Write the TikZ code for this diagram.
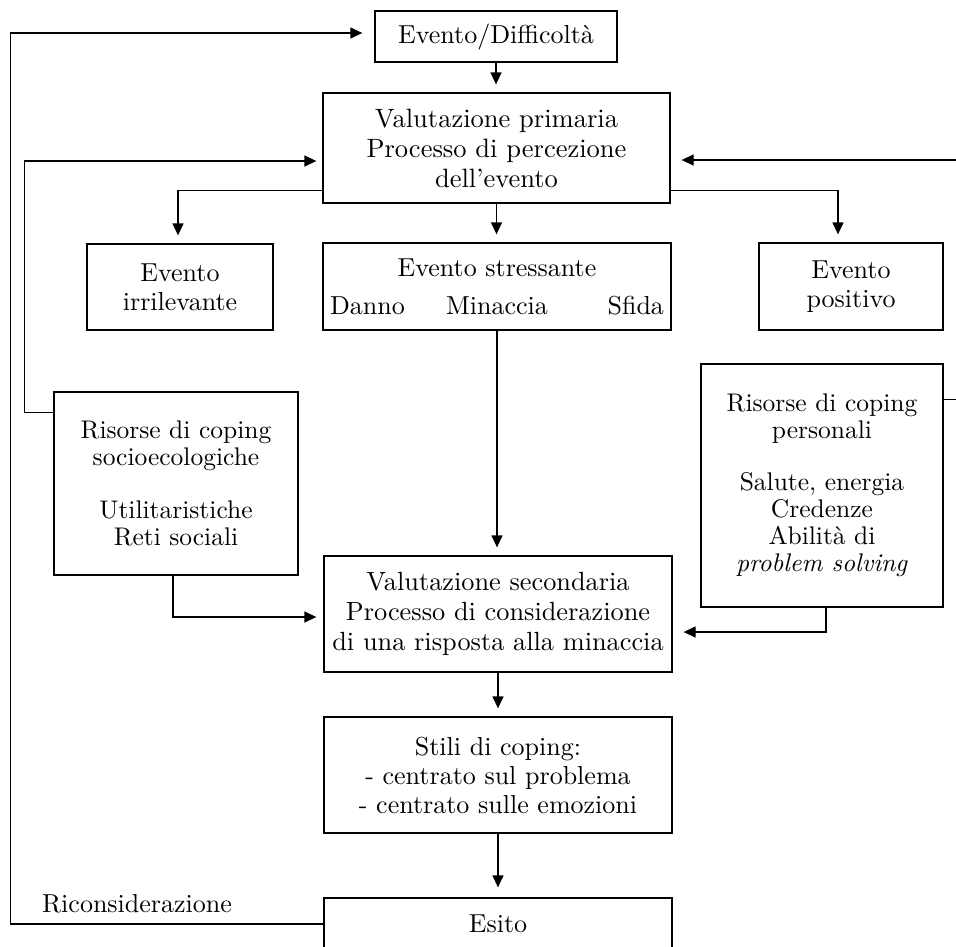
\documentclass[tikz,border=0pt]{standalone}
\usepackage{fontspec}
\setmainfont{lmroman10-regular.otf}[ItalicFont=lmroman10-italic.otf, BoldFont=lmroman10-bold.otf]
\usetikzlibrary{arrows.meta}
\tikzset{
  box/.style={draw, line width=1.3pt, inner sep=0pt, align=center, font=\fontsize{26}{28}\selectfont},
  arr/.style={line width=1.3pt, -{Triangle[length=12pt,width=11pt]}, shorten >=8pt},
  lbl/.style={font=\fontsize{26}{28}\selectfont, inner sep=0pt}
}
\begin{document}
\begin{tikzpicture}[x=1pt,y=-1pt]
\useasboundingbox (0,0) rectangle (956,946);
\node[box, minimum width=242pt, minimum height=51pt] (ev) at (496,36.5) {Evento/Difficoltà};
\node[box, minimum width=347pt, minimum height=110pt, font=\fontsize{26.5}{30}\selectfont] (vp) at (496.5,148) {Valutazione primaria\\Processo di percezione\\dell'evento};
\node[box, minimum width=186pt, minimum height=86pt, font=\fontsize{26}{29}\selectfont] (irr) at (180,287) {Evento\\irrilevante};
\node[box, minimum width=348pt, minimum height=87pt] (str) at (497,286.5) {Evento stressante\\[10pt]\makebox[334pt]{\rlap{Danno}\hfill Minaccia\hfill\llap{Sfida}}};
\node[box, minimum width=184pt, minimum height=87pt, font=\fontsize{26}{29}\selectfont] (pos) at (851,286.5) {Evento\\positivo};
\node[box, minimum width=244pt, minimum height=183pt, font=\fontsize{25.5}{27}\selectfont] (rs) at (176,483.5) {Risorse di coping\\socioecologiche\\[26pt]Utilitaristiche\\Reti sociali};
\node[box, minimum width=242pt, minimum height=243pt, font=\fontsize{25.5}{27}\selectfont] (rp) at (822,485.5) {Risorse di coping\\personali\\[25pt]Salute, energia\\Credenze\\Abilità di\\\textit{problem solving}};
\node[box, minimum width=348pt, minimum height=116pt, font=\fontsize{26.3}{30}\selectfont] (vs) at (498,614) {Valutazione secondaria\\Processo di considerazione\\di una risposta alla minaccia};
\node[box, minimum width=348pt, minimum height=116pt, font=\fontsize{26}{29}\selectfont] (st) at (498,775) {Stili di coping:\\- centrato sul problema\\- centrato sulle emozioni};
\node[box, minimum width=348pt, minimum height=52pt] (es) at (498,924) {Esito};
\node[lbl, anchor=base] (rc) at (137,912) {Riconsiderazione};

\draw[arr] (ev.south) -- (ev.south |- vp.north);
\draw[arr] ([yshift=13pt]vp.south west) -| ([xshift=-2pt]irr.north);
\draw[arr] (vp.south) -- (vp.south |- str.north);
\draw[arr] ([yshift=13pt]vp.south east) -| ([xshift=-13pt]pos.north);
\draw[arr] (str.south) -- (str.south |- vs.north);
\draw[arr] (vs.south) -- (vs.south |- st.north);
\draw[arr, shorten >=10pt] (st.south) -- (st.south |- es.north);
\draw[arr, shorten >=6pt] ([yshift=-21pt]rs.north west) -- ++(-29,0) |- ([yshift=-13pt]vp.west);
\draw[arr, shorten >=7pt] ([xshift=-3pt]rs.south) |- ([yshift=-3pt]vs.west);
\draw[arr, shorten >=11pt] ([yshift=-36pt]rp.north east) -- ++(40,0) |- ([yshift=-12pt]vp.east);
\draw[arr, shorten >=11pt] ([xshift=4pt]rp.south) |- ([yshift=-18pt]vs.east);
\draw[arr, shorten >=12pt] (es.west) -- ++(-313,0) |- ([yshift=3.5pt]ev.west);
\end{tikzpicture}
\end{document}
